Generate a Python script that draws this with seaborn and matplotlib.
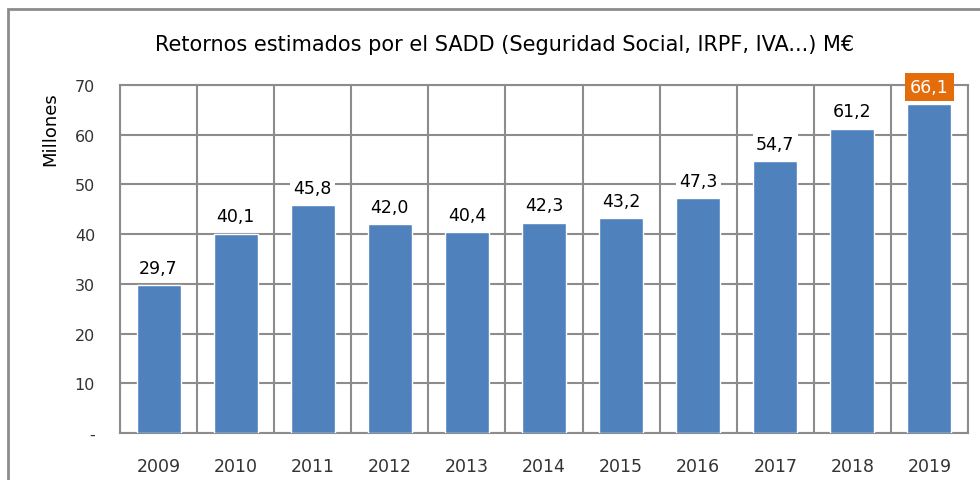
import matplotlib
matplotlib.use("Agg")
import matplotlib.pyplot as plt
import seaborn as sns
import pandas as pd
from matplotlib.patches import Rectangle

# chart data
years = ["2009", "2010", "2011", "2012", "2013", "2014", "2015", "2016", "2017", "2018", "2019"]
retornos = [29.7, 40.1, 45.8, 42.0, 40.4, 42.3, 43.2, 47.3, 54.7, 61.2, 66.1]
y_ticks = [0, 10, 20, 30, 40, 50, 60, 70]
y_tick_labels = ["-", "10", "20", "30", "40", "50", "60", "70"]

df = pd.DataFrame({"year": years, "valor": retornos})

sns.set_style("white")
plt.rcParams["font.family"] = ["DejaVu Sans"]

fig = plt.figure(figsize=(9.8, 4.81), dpi=100)
ax = fig.add_axes([120 / 980, 1 - 434 / 481, (968 - 120) / 980, (434 - 86) / 481])

sns.barplot(data=df, x="year", y="valor", color="#4F81BD", saturation=1,
            width=0.57, ax=ax, zorder=3)

ax.set_ylim(0, 70)
ax.set_xlim(-0.5, len(years) - 0.5)
ax.set_yticks(y_ticks)
ax.set_yticklabels(y_tick_labels, fontsize=11.5, color="#333333")
ax.set_xticks(range(len(years)))
ax.set_xticklabels(years, fontsize=12.5, color="#333333")
ax.tick_params(axis="both", length=0)
ax.tick_params(axis="x", pad=17)
ax.tick_params(axis="y", pad=18)

# gridlines: horizontal at ticks, vertical between categories
ax.set_xticks([i - 0.5 for i in range(len(years) + 1)], minor=True)
ax.grid(axis="y", which="major", color="#8C8C8C", lw=1.5, zorder=0)
ax.grid(axis="x", which="minor", color="#8C8C8C", lw=1.5, zorder=0)
ax.tick_params(axis="x", which="minor", length=0)
for s in ax.spines.values():
    s.set_color("#8C8C8C")
    s.set_linewidth(1.5)

ax.set_xlabel("")
ax.set_ylabel("")
fig.text(50 / 980, 1 - 92 / 481, "Millones", rotation=90, ha="center", va="top",
         fontsize=13, color="black")

# value labels
for i, v in enumerate(retornos):
    txt = f"{v:.1f}".replace(".", ",")
    if i == len(retornos) - 1:
        box = dict(boxstyle="square,pad=0.3", fc="#E46C0A", ec="none")
        col = "white"
    else:
        box = dict(boxstyle="square,pad=0.2", fc="white", ec="none")
        col = "black"
    ax.annotate(txt, (i, v), xytext=(0, 6), textcoords="offset points",
                ha="center", va="bottom", fontsize=12.5, color=col,
                bbox=box, zorder=5, annotation_clip=False)

fig.text(505 / 980, 1 - 45 / 481,
         "Retornos estimados por el SADD (Seguridad Social, IRPF, IVA...) M€",
         ha="center", va="center", fontsize=15, color="black")

# outer chart frame
fig.add_artist(Rectangle((8 / 980, -0.1), 1.2, 1.1 - 10 / 481,
                         transform=fig.transFigure, fill=False,
                         ec="#8C8C8C", lw=2))

fig.savefig("out.png", dpi=100)
